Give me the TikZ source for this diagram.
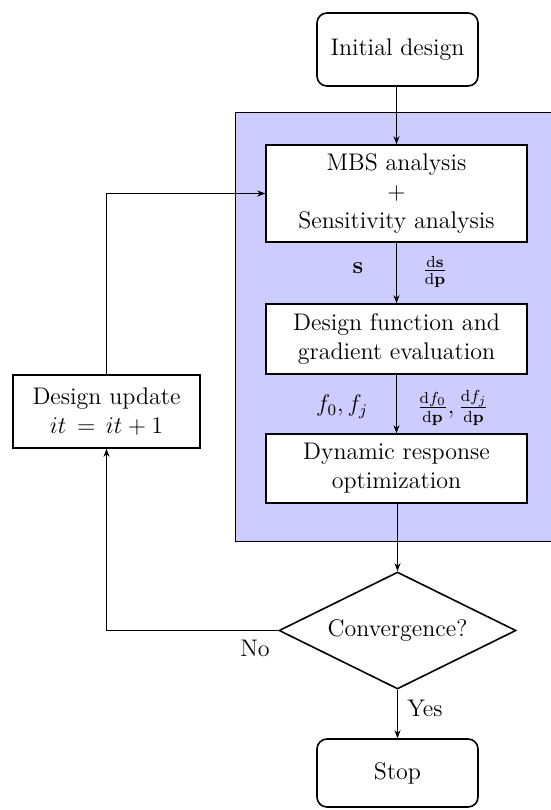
\documentclass[tikz,border=0pt,12pt]{standalone}
\usepackage{amsmath}
\usetikzlibrary{shapes.geometric,arrows.meta}
\begin{document}
\begin{tikzpicture}[x=0.5pt,y=-0.5pt,
  box/.style={draw,thick,rectangle,align=center,inner sep=2pt},
  rbox/.style={box,rounded corners=5pt},
  dec/.style={draw,thick,diamond,aspect=2,align=center,inner sep=1pt},
  conn/.style={draw,-{Stealth[length=4pt,width=3pt]}},
  lab/.style={inner sep=1pt},
  groupbox/.style={draw,fill=blue!20}
]
\useasboundingbox (0,0) rectangle (551,810);
\path[groupbox] (235,112) rectangle (553,541);
\node[rbox,minimum width=80.5pt,minimum height=36.5pt] (init) at (397.5,49.5) {Initial design};
\node[box,fill=white,minimum width=130.5pt,minimum height=48.5pt] (mbs) at (396.5,193.5) {MBS analysis\\$+$\\Sensitivity analysis};
\node[box,fill=white,minimum width=130.5pt,minimum height=35pt] (dfe) at (396.5,339) {Design function and\\gradient evaluation};
\node[box,fill=white,minimum width=130.5pt,minimum height=34.5pt] (dro) at (396.5,468.5) {Dynamic response\\optimization};
\node[dec,minimum width=118.5pt,minimum height=58.5pt] (conv) at (397.5,630.5) {Convergence?};
\node[box,minimum width=93.5pt,minimum height=36.5pt] (upd) at (106.5,411.5) {Design update\\$it\,=\,it+1$};
\node[rbox,minimum width=80.5pt,minimum height=34pt] (stop) at (397.5,773) {Stop};
\coordinate (c1) at (106.5,630.5);
\coordinate (c2) at (106.5,193.5);
\node[lab] (ls) at (358,268) {$\mathbf{s}$};
\node[lab] (lds) at (435,272) {$\frac{\mathrm{d}\mathbf{s}}{\mathrm{d}\mathbf{p}}$};
\node[lab] (lf) at (342,407) {$f_0, f_j$};
\node[lab] (ldf) at (453,408) {$\frac{\mathrm{d}f_0}{\mathrm{d}\mathbf{p}},\frac{\mathrm{d}f_j}{\mathrm{d}\mathbf{p}}$};
\node[lab] (lno) at (255,648) {No};
\node[lab] (lyes) at (425,708) {Yes};
\draw[conn] (init.south -| mbs.north) -- (mbs.north);
\draw[conn] (mbs) -- (dfe);
\draw[conn] (dfe) -- (dro);
\draw[conn] (dro.south -| conv.north) -- (conv.north);
\draw[conn] (conv.south) -- (conv.south |- stop.north);
\draw[conn] (conv.west) -- (c1) -- (upd.south);
\draw[conn] (upd.north) -- (c2) -- (mbs.west);
\end{tikzpicture}
\end{document}
